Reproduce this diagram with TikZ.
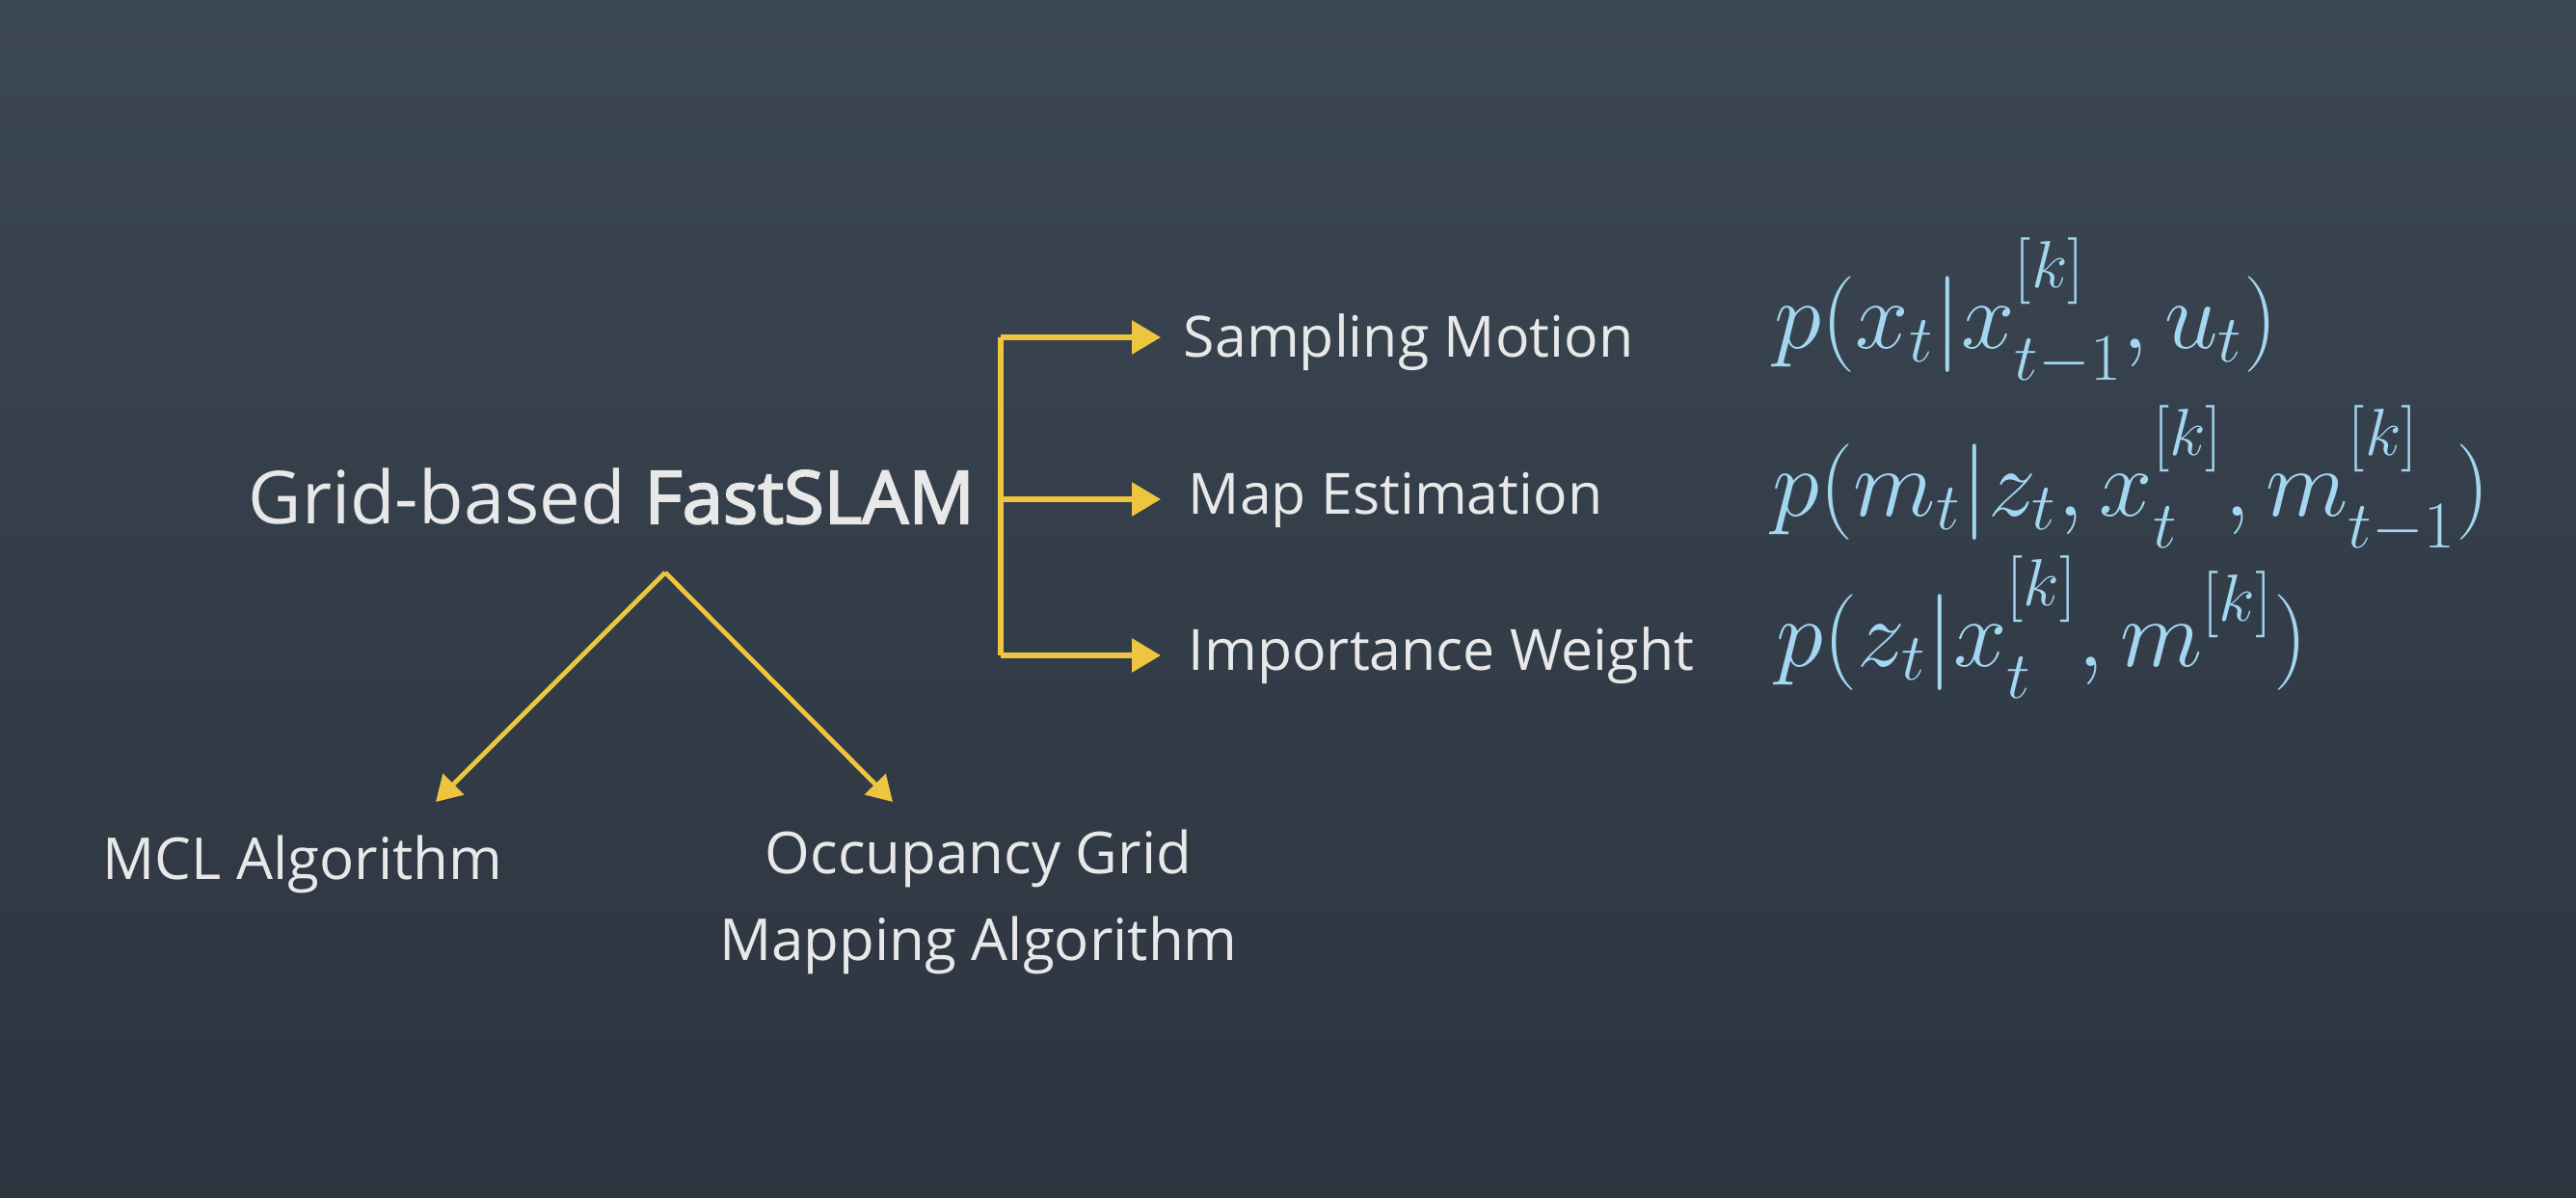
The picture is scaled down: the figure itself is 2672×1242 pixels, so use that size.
\documentclass[tikz,border=0pt]{standalone}
\usepackage[no-math]{fontspec}
\setmainfont{Open Sans}
\newfontfamily\semib[FakeBold=2.6]{Open Sans}
\usetikzlibrary{arrows.meta}
\definecolor{bgtop}{HTML}{3B4753}
\definecolor{bgbot}{HTML}{2C343F}
\definecolor{txt}{HTML}{E8E8E8}
\definecolor{yl}{HTML}{EEC53E}
\definecolor{mth}{HTML}{A3D6F0}
\newcommand\Up[1]{\raisebox{0.26em}{$\scriptstyle #1$}}
\newcommand\Upm[1]{\raisebox{0.1em}{$\scriptstyle #1$}}
\newcommand\Dn[1]{\raisebox{-0.09em}{$\scriptstyle #1$}}
\tikzset{
  ylline/.style={draw=yl, line width=1.5pt},
  ylarrow/.style={ylline, -{Triangle[length=7.5pt,width=8.5pt]}},
  ydiag/.style={draw=yl, line width=1.2pt, -{Triangle[length=6.5pt,width=7.5pt]}},
  lbl/.style={text=txt, inner sep=0pt, font=\fontsize{14.75pt}{17pt}\selectfont},
  title/.style={text=txt, inner sep=0pt, font=\fontsize{19pt}{22pt}\selectfont},
  sub/.style={text=txt, inner sep=0pt, align=center, font=\fontsize{15pt}{22.5pt}\selectfont},
  eq/.style={text=mth, inner sep=0pt, font=\fontsize{25pt}{29pt}\selectfont}
}
\begin{document}
\begin{tikzpicture}[x=0.25pt,y=-0.25pt]
\shade[top color=bgtop, bottom color=bgbot] (0,0) rectangle (2672,1242);
\useasboundingbox (0,0) rectangle (2672,1242);

\node[title, anchor=base west] (gf) at (257,543) {Grid-based {\semib FastSLAM}};

\node[lbl, anchor=base west] (s1) at (1227,370) {Sampling Motion};
\node[lbl, anchor=base west] (s2) at (1232,533) {Map Estimation};
\node[lbl, anchor=base west] (s3) at (1232,695) {Importance Weight};

\node[eq, anchor=base west] (e1) at (1840,361) {$p(x_t|x_{\Dn{t-1}}^{\Up{[k]}},u_t)$};
\node[eq, anchor=base west] (e2) at (1838,535) {$p(m_t|z_t,x_{\Dn{t}}^{\Up{[k]}},m_{\Dn{t-1}}^{\Up{[k]}})$};
\node[eq, anchor=base west] (e3) at (1842,691) {$p(z_t|x_{\Dn{t}}^{\Up{[k]}},m^{\Upm{[k]}})$};

\node[sub, anchor=base west] (mcl) at (106,912) {MCL Algorithm};
\node[sub, anchor=north] (ogm) at (1015,860) {Occupancy Grid\\Mapping Algorithm};

\coordinate (bt) at (1038,350);
\coordinate (bm) at (1038,518);
\coordinate (bb) at (1038,680);
\coordinate (ta) at (1204,0);
\draw[ylline] (bt) -- (bb);
\draw[ylarrow] (bt) -- (ta |- bt);
\draw[ylarrow] (bm) -- (ta |- bm);
\draw[ylarrow] (bb) -- (ta |- bb);

\coordinate (v) at (690,594);
\coordinate (lt) at (452,832);
\coordinate (rt) at (926,832);
\draw[ydiag] (v) -- (lt);
\draw[ydiag] (v) -- (rt);
\end{tikzpicture}
\end{document}
